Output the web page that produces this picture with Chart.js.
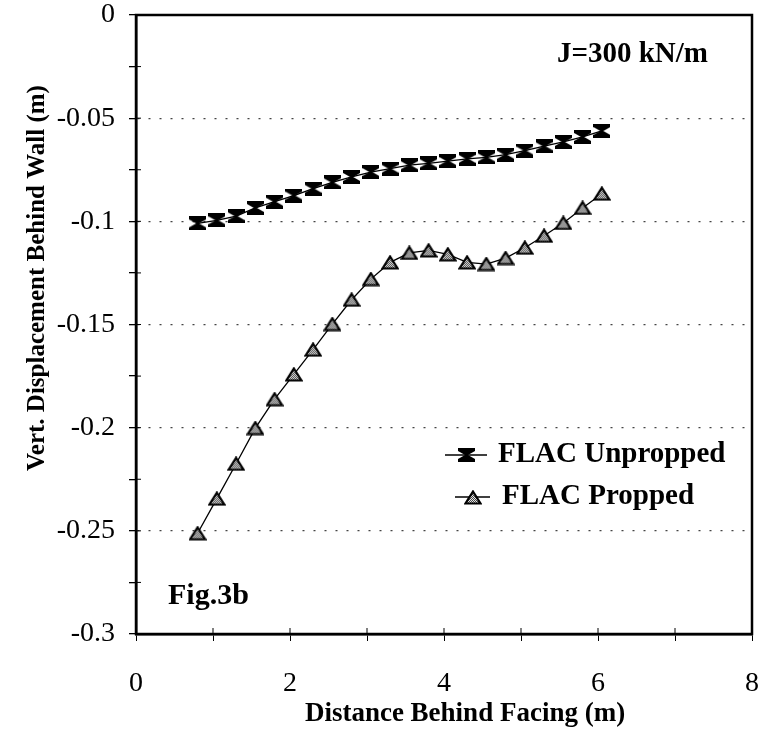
<!DOCTYPE html>
<html>
<head>
<meta charset="utf-8">
<script src="https://cdn.jsdelivr.net/npm/chart.js@4.4.1/dist/chart.umd.min.js"></script>
<style>
  html, body { margin: 0; padding: 0; background: #fff; }
  #wrap { width: 767px; height: 730px; }
</style>
</head>
<body>
<div id="wrap"><canvas id="dispChart" width="767" height="730"></canvas></div>
<script>
// distance behind facing (m)
const distances = [0.8, 1.05, 1.3, 1.55, 1.8, 2.05, 2.3, 2.55, 2.8, 3.05, 3.3, 3.55, 3.8, 4.05, 4.3, 4.55, 4.8, 5.05, 5.3, 5.55, 5.8, 6.05];

// vertical displacement behind wall (m)
const unpropped = [-0.101, -0.0995, -0.0975, -0.0935, -0.0905, -0.0875, -0.0842, -0.0811, -0.0785, -0.0761, -0.0745,
                   -0.0728, -0.0719, -0.0708, -0.0697, -0.069, -0.0677, -0.0657, -0.0636, -0.0615, -0.0591, -0.0562];
const propped = [-0.2512, -0.2344, -0.2175, -0.2002, -0.1862, -0.1742, -0.1622, -0.1498, -0.138, -0.128, -0.1199,
                 -0.1153, -0.1141, -0.116, -0.1199, -0.1207, -0.1178, -0.1128, -0.107, -0.1008, -0.0935, -0.0866];

const seriesNames = ['FLAC Unpropped', 'FLAC Propped'];

// tick labels
const xTickValues = [0, 2, 4, 6, 8];
const xTickLabels = ['0', '2', '4', '6', '8'];
const yTickValues = [0, -0.05, -0.1, -0.15, -0.2, -0.25, -0.3];
const yTickLabels = ['0', '-0.05', '-0.1', '-0.15', '-0.2', '-0.25', '-0.3'];

const xTitle = 'Distance Behind Facing (m)';
const yTitle = 'Vert. Displacement Behind Wall (m)';
const stiffnessNote = 'J=300 kN/m';
const figLabel = 'Fig.3b';

const SERIF = '"Liberation Serif", "Times New Roman", serif';

function findLabel(values, labels, v) {
  const i = values.findIndex(t => Math.abs(t - v) < 1e-6);
  return i >= 0 ? labels[i] : '';
}

// black "hourglass" marker used by the unpropped curve
function hourglassMarker() {
  const c = document.createElement('canvas');
  c.width = 17; c.height = 14;
  const g = c.getContext('2d');
  g.fillStyle = '#000';
  g.beginPath();
  g.moveTo(0, 0); g.lineTo(17, 0); g.lineTo(17, 3); g.lineTo(10, 7); g.lineTo(17, 11);
  g.lineTo(17, 14); g.lineTo(0, 14); g.lineTo(0, 11); g.lineTo(7, 7); g.lineTo(0, 3);
  g.closePath();
  g.fill();
  return c;
}

// triangle with a grey dotted fill for the propped curve
function triangleMarker() {
  const pat = document.createElement('canvas');
  pat.width = 2; pat.height = 2;
  const pg = pat.getContext('2d');
  pg.fillStyle = '#e6e6e6'; pg.fillRect(0, 0, 2, 2);
  pg.fillStyle = '#444'; pg.fillRect(0, 0, 1, 1); pg.fillRect(1, 1, 1, 1);

  const c = document.createElement('canvas');
  c.width = 18; c.height = 15;
  const g = c.getContext('2d');
  g.beginPath();
  g.moveTo(9, 1.5); g.lineTo(16.5, 13.5); g.lineTo(1.5, 13.5); g.closePath();
  g.fillStyle = g.createPattern(pat, 'repeat');
  g.fill();
  g.lineWidth = 2.2; g.strokeStyle = '#000';
  g.stroke();
  return c;
}

const markers = [hourglassMarker(), triangleMarker()];

// frame, inner tick halves, notes, legend and axis titles
const decorPlugin = {
  id: 'decor',
  afterDatasetsDraw(chart) {
    const { ctx, chartArea: a, scales } = chart;
    ctx.save();
    ctx.strokeStyle = '#000';

    ctx.lineWidth = 1;
    scales.y.ticks.forEach(t => {
      const py = scales.y.getPixelForValue(t.value);
      ctx.beginPath(); ctx.moveTo(a.left, py); ctx.lineTo(a.left + 5, py); ctx.stroke();
    });
    scales.x.ticks.forEach(t => {
      const px = scales.x.getPixelForValue(t.value);
      ctx.beginPath(); ctx.moveTo(px, a.bottom); ctx.lineTo(px, a.bottom - 6); ctx.stroke();
    });

    ctx.lineWidth = 2.5;
    ctx.strokeRect(a.left, a.top, a.right - a.left, a.bottom - a.top);

    ctx.fillStyle = '#000';
    ctx.font = 'bold 29px ' + SERIF;
    ctx.textBaseline = 'middle';
    ctx.textAlign = 'right';
    ctx.fillText(stiffnessNote, a.right - 44, a.top + 40);

    ctx.textAlign = 'left';
    ctx.font = 'bold 30px ' + SERIF;
    ctx.fillText(figLabel, a.left + 32, a.bottom - 38);

    // legend
    const rows = [
      { y: a.bottom - 179, x0: a.left + 309, x1: a.left + 351, tx: a.left + 362 },
      { y: a.bottom - 137, x0: a.left + 319, x1: a.left + 354, tx: a.left + 366 }
    ];
    ctx.font = 'bold 29px ' + SERIF;
    rows.forEach((r, i) => {
      ctx.lineWidth = 1.3;
      ctx.beginPath(); ctx.moveTo(r.x0, r.y); ctx.lineTo(r.x1, r.y); ctx.stroke();
      const m = markers[i];
      ctx.drawImage(m, Math.round((r.x0 + r.x1) / 2 - m.width / 2), Math.round(r.y - m.height / 2));
      ctx.fillText(seriesNames[i], r.tx, r.y);
    });

    // axis titles
    ctx.textAlign = 'center';
    ctx.font = 'bold 27px ' + SERIF;
    ctx.fillText(xTitle, 465, 714);

    ctx.save();
    ctx.translate(44, 278);
    ctx.rotate(-Math.PI / 2);
    ctx.textBaseline = 'alphabetic';
    ctx.font = 'bold 25px ' + SERIF;
    ctx.fillText(yTitle, 0, 0);
    ctx.restore();

    ctx.restore();
  }
};

const ctx = document.getElementById('dispChart').getContext('2d');

new Chart(ctx, {
  type: 'line',
  data: {
    datasets: [unpropped, propped].map((vals, i) => ({
      label: seriesNames[i],
      data: distances.map((d, j) => ({ x: d, y: vals[j] })),
      borderColor: '#000',
      backgroundColor: '#000',
      borderWidth: 1.3,
      tension: 0,
      fill: false,
      pointStyle: markers[i],
      pointRadius: 7,
      clip: false
    }))
  },
  options: {
    responsive: false,
    devicePixelRatio: 1,
    animation: false,
    layout: { padding: { top: 15, right: 15, left: 0, bottom: 0 } },
    plugins: {
      legend: { display: false },
      tooltip: { enabled: false }
    },
    scales: {
      x: {
        type: 'linear',
        min: 0,
        max: 8,
        afterFit: scale => {
          scale.height = 96;
          scale.paddingLeft = 0;
          scale.paddingRight = 0;
        },
        ticks: {
          stepSize: 1,
          autoSkip: false,
          maxRotation: 0,
          padding: 29,
          color: '#000',
          font: { family: SERIF, size: 28, lineHeight: 1 },
          callback: v => findLabel(xTickValues, xTickLabels, v)
        },
        grid: { drawOnChartArea: false, tickLength: 7, tickColor: '#000', color: '#000' },
        border: { color: '#000', width: 2.5 }
      },
      y: {
        min: -0.3,
        max: 0,
        afterFit: scale => {
          scale.width = 136;
          scale.paddingTop = 0;
          scale.paddingBottom = 0;
        },
        ticks: {
          stepSize: 0.025,
          autoSkip: false,
          padding: 14,
          color: '#000',
          font: { family: SERIF, size: 28, lineHeight: 1 },
          callback: v => findLabel(yTickValues, yTickLabels, v)
        },
        grid: {
          tickLength: 7,
          tickColor: '#000',
          lineWidth: 1.3,
          color: c => {
            const v = c.tick ? c.tick.value : 0;
            const major = findLabel(yTickValues, yTickLabels, v) !== '';
            return major && v < -0.01 && v > -0.29 ? '#444' : 'rgba(0,0,0,0)';
          }
        },
        border: { color: '#000', width: 2.5, dash: [2, 9] }
      }
    }
  },
  plugins: [decorPlugin]
});
</script>
</body>
</html>
